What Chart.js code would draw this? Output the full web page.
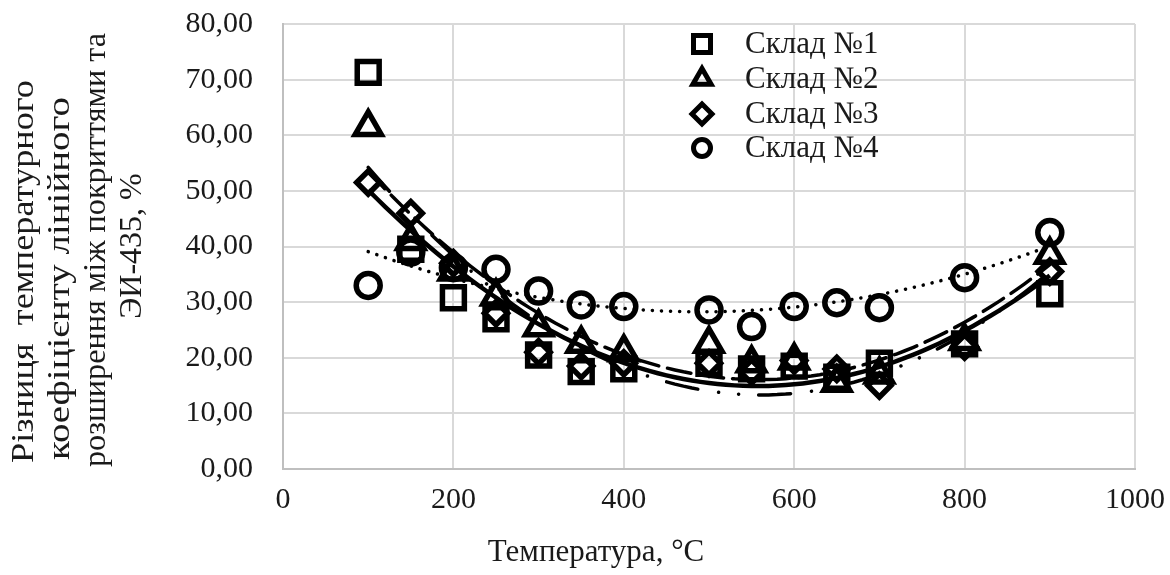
<!DOCTYPE html>
<html>
<head>
<meta charset="utf-8">
<script src="https://cdn.jsdelivr.net/npm/chart.js@4.4.1/dist/chart.umd.min.js"></script>
<style>
  html, body { margin: 0; padding: 0; background: #fff; }
</style>
</head>
<body>
<canvas id="myChart" width="1170" height="575"></canvas>
<script>
// temperatures, °C
const temps = [100, 150, 200, 250, 300, 350, 400, 500, 550, 600, 650, 700, 800, 900];
// difference of linear expansion coefficient, %
const sklad1 = [71.3, 39.5, 30.8, 27.0, 20.5, 17.5, 18.0, 19.0, 18.0, 18.5, 16.5, 19.0, 22.5, 31.5];
const sklad2 = [61.5, 41.0, 35.5, 31.0, 25.5, 22.5, 21.0, 22.5, 19.0, 19.5, 15.5, 17.0, 23.0, 38.5];
const sklad3 = [51.5, 46.0, 37.0, 28.0, 21.0, 18.5, 19.0, 19.0, 17.5, 19.5, 18.0, 15.0, 22.0, 35.5];
const sklad4 = [33.0, 39.0, 36.2, 35.9, 32.0, 29.5, 29.2, 28.6, 25.6, 29.2, 29.9, 29.0, 34.4, 42.5];
const seriesNames = ["Склад №1", "Склад №2", "Склад №3", "Склад №4"];
const xTickValues = [0, 200, 400, 600, 800, 1000];
const yTickValues = [0, 10, 20, 30, 40, 50, 60, 70, 80];

const FONT = "'Liberation Serif', 'Times New Roman', serif";
const seriesData = [sklad1, sklad2, sklad3, sklad4];
const markers = [
  { style: "rect", radius: 15.5 },
  { style: "triangle", radius: 15 },
  { style: "rectRot", radius: 11.5 },
  { style: "circle", radius: 12 },
];
const trendStyles = [
  { dash: [32, 21, 0.1, 20, 0.1, 20], width: 3.5 },
  { dash: [24, 9], width: 3.5 },
  { dash: [], width: 4.5 },
  { dash: [0.1, 9], width: 3.5 },
];

// second order polynomial trendline (least squares), x scaled by 1/100
function polyFit2(xs, ys) {
  const s = [0, 0, 0, 0, 0], t = [0, 0, 0];
  xs.forEach((x0, i) => {
    const x = x0 / 100, y = ys[i];
    let p = 1;
    for (let k = 0; k < 5; k++) { s[k] += p; p *= x; }
    t[0] += y; t[1] += y * x; t[2] += y * x * x;
  });
  const m = [[s[0], s[1], s[2], t[0]], [s[1], s[2], s[3], t[1]], [s[2], s[3], s[4], t[2]]];
  for (let c = 0; c < 3; c++) {
    for (let r = c + 1; r < 3; r++) {
      const f = m[r][c] / m[c][c];
      for (let k = c; k < 4; k++) m[r][k] -= f * m[c][k];
    }
  }
  const k = [0, 0, 0];
  for (let r = 2; r >= 0; r--) {
    let v = m[r][3];
    for (let j = r + 1; j < 3; j++) v -= m[r][j] * k[j];
    k[r] = v / m[r][r];
  }
  return x => { const u = x / 100; return k[0] + k[1] * u + k[2] * u * u; };
}

const trendX = [];
for (let x = temps[0]; x <= temps[temps.length - 1]; x += 10) trendX.push(x);

const datasets = [];
seriesData.forEach((ys, i) => {
  const f = polyFit2(temps, ys);
  datasets.push({
    type: "line",
    label: "trend " + seriesNames[i],
    data: trendX.map(x => ({ x: x, y: f(x) })),
    borderColor: "#000",
    borderWidth: trendStyles[i].width,
    borderDash: trendStyles[i].dash,
    borderCapStyle: trendStyles[i].dash.length ? "round" : "butt",
    pointRadius: 0,
    fill: false,
    tension: 0,
    order: 0,
  });
});
seriesData.forEach((ys, i) => {
  datasets.push({
    type: "scatter",
    label: seriesNames[i],
    data: temps.map((x, j) => ({ x: x, y: ys[j] })),
    pointStyle: markers[i].style,
    pointRadius: markers[i].radius,
    pointBorderWidth: 5.5,
    pointBorderColor: "#000",
    pointBackgroundColor: "rgba(0,0,0,0)",
    clip: false,
    order: 1,
  });
});

function drawMarker(ctx, style, x, y, r) {
  ctx.beginPath();
  if (style === "rect") {
    ctx.rect(x - r, y - r, 2 * r, 2 * r);
  } else if (style === "triangle") {
    const h = r * Math.sqrt(3) / 2;
    ctx.moveTo(x, y - r);
    ctx.lineTo(x + h, y + r / 2);
    ctx.lineTo(x - h, y + r / 2);
    ctx.closePath();
  } else if (style === "rectRot") {
    ctx.moveTo(x - r, y); ctx.lineTo(x, y - r); ctx.lineTo(x + r, y); ctx.lineTo(x, y + r);
    ctx.closePath();
  } else {
    ctx.arc(x, y, r, 0, Math.PI * 2);
  }
  ctx.stroke();
}

const textPlugin = {
  id: "texts",
  afterDraw(chart) {
    const ctx = chart.ctx;
    ctx.save();
    ctx.fillStyle = "#1a1a1a";
    ctx.textBaseline = "middle";

    // legend inside plot
    ctx.font = "31px " + FONT;
    const legendSizes = [8.5, 10.5, 10, 8.5];
    const rowsY = [44, 79, 114, 148];
    ctx.strokeStyle = "#000";
    ctx.lineWidth = 5;
    ctx.lineJoin = "miter";
    seriesNames.forEach((name, i) => {
      drawMarker(ctx, markers[i].style, 702, rowsY[i], legendSizes[i]);
      ctx.textAlign = "left";
      ctx.fillText(name, 745, rowsY[i] + 1);
    });

    // x axis title
    ctx.textAlign = "center";
    ctx.fillText("Температура, °C", 596, 553);

    // y axis title (rotated); first three lines fill their box length
    ctx.font = "32px " + FONT;
    const yLines = ["Різниця  температурного", "коефіцієнту лінійного", "розширення між покриттями та", "ЭИ-435, %"];
    const yStart = [463, 460, 467];
    const yLen = [383, 363, 434];
    yLines.forEach((line, i) => {
      ctx.save();
      ctx.translate(25 + i * 36, i < 3 ? yStart[i] : 246);
      ctx.rotate(-Math.PI / 2);
      if (i < 3) {
        ctx.textAlign = "left";
        const w = ctx.measureText(line).width;
        ctx.scale(yLen[i] / w, 1);
        ctx.fillText(line, 0, 0);
      } else {
        ctx.textAlign = "center";
        ctx.fillText(line, 0, 0);
      }
      ctx.restore();
    });
    ctx.restore();
  },
};

function noScalePadding(scale) {
  scale.paddingTop = 0;
  scale.paddingBottom = 0;
  scale.paddingLeft = 0;
  scale.paddingRight = 0;
}

const ctx = document.getElementById("myChart").getContext("2d");
const myChart = new Chart(ctx, {
  data: { datasets: datasets },
  options: {
    responsive: false,
    animation: false,
    devicePixelRatio: 1,
    layout: { autoPadding: false, padding: { top: 24, right: 35, left: 0, bottom: 0 } },
    plugins: {
      legend: { display: false },
      tooltip: { enabled: false },
    },
    scales: {
      x: {
        type: "linear",
        min: 0,
        max: 1000,
        afterBuildTicks: scale => { scale.ticks = xTickValues.map(v => ({ value: v })); },
        afterFit: scale => { scale.height = 106; noScalePadding(scale); },
        grid: { color: "#d9d9d9", lineWidth: 2, drawTicks: false },
        border: { color: "#bfbfbf", width: 2 },
        ticks: {
          padding: 13,
          color: "#1a1a1a",
          font: { family: FONT, size: 30 },
          maxRotation: 0,
          autoSkip: false,
          callback: v => String(v),
        },
      },
      y: {
        type: "linear",
        min: 0,
        max: 80,
        afterBuildTicks: scale => { scale.ticks = yTickValues.map(v => ({ value: v })); },
        afterFit: scale => { scale.width = 283; noScalePadding(scale); },
        grid: { color: "#d9d9d9", lineWidth: 2, drawTicks: false },
        border: { color: "#bfbfbf", width: 2 },
        ticks: {
          padding: 30,
          color: "#1a1a1a",
          font: { family: FONT, size: 30 },
          autoSkip: false,
          callback: v => v.toFixed(2).replace(".", ","),
        },
      },
    },
  },
  plugins: [textPlugin],
});
</script>
</body>
</html>
